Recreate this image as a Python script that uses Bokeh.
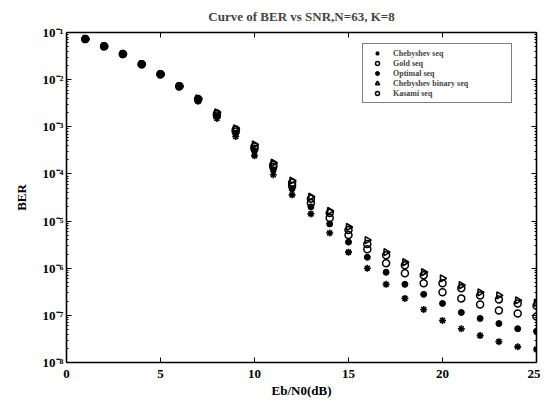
import numpy as np
from bokeh.plotting import figure
from bokeh.models import (LinearAxis, LogAxis, FixedTicker, CustomJSTickFormatter,
                          Legend, LegendItem, Range1d)
from bokeh.embed import file_html
from bokeh.resources import INLINE

# ---- data ----
snr_db = [1, 2, 3, 4, 5, 6, 7, 8, 9, 10, 11, 12, 13, 14, 15, 16, 17, 18, 19, 20, 21, 22, 23, 24, 25]

ber_cheb_binary = [7.26e-2, 5.08e-2, 3.48e-2, 2.13e-2, 1.30e-2, 7.23e-3, 4.01e-3, 2.02e-3, 9.2e-4, 4.2e-4,
                   1.73e-4, 7.2e-5, 3.27e-5, 1.64e-5, 7.48e-6, 3.95e-6, 2.19e-6, 1.34e-6, 8.2e-7, 6.1e-7,
                   4.35e-7, 3.08e-7, 2.65e-7, 2.08e-7, 1.85e-7]
ber_kasami = [7.26e-2, 5.08e-2, 3.48e-2, 2.13e-2, 1.30e-2, 7.2e-3, 3.9e-3, 1.92e-3, 8.75e-4, 3.8e-4,
              1.57e-4, 6.5e-5, 2.96e-5, 1.49e-5, 6.46e-6, 3.25e-6, 1.89e-6, 1.16e-6, 7.1e-7, 4.79e-7,
              3.75e-7, 2.65e-7, 2.18e-7, 1.79e-7, 1.6e-7]
ber_gold = [7.26e-2, 5.08e-2, 3.48e-2, 2.13e-2, 1.30e-2, 7.2e-3, 3.8e-3, 1.74e-3, 7.94e-4, 3.44e-4,
            1.42e-4, 5.6e-5, 2.43e-5, 1.16e-5, 5.05e-6, 2.54e-6, 1.28e-6, 7.8e-7, 4.79e-7, 3.08e-7,
            2.29e-7, 1.7e-7, 1.27e-7, 1.1e-7, 9.5e-8]
ber_optimal = [7.26e-2, 5.08e-2, 3.48e-2, 2.13e-2, 1.30e-2, 7.2e-3, 3.7e-3, 1.66e-3, 7.2e-4, 3.12e-4,
               1.23e-4, 4.83e-5, 2.0e-5, 8.7e-6, 3.58e-6, 1.71e-6, 8.2e-7, 4.55e-7, 2.79e-7, 1.79e-7,
               1.15e-7, 8.6e-8, 6.7e-8, 5.2e-8, 4.6e-8]
ber_cheb = [7.26e-2, 5.08e-2, 3.48e-2, 2.13e-2, 1.30e-2, 7.1e-3, 3.46e-3, 1.50e-3, 6.21e-4, 2.44e-4,
            9.6e-5, 3.6e-5, 1.42e-5, 5.57e-6, 2.19e-6, 1.0e-6, 4.55e-7, 2.29e-7, 1.33e-7, 7.8e-8,
            5.2e-8, 3.72e-8, 2.77e-8, 2.15e-8, 1.9e-8]

x_ticks = [0, 5, 10, 15, 20, 25]
y_ticks = [1e-8, 1e-7, 1e-6, 1e-5, 1e-4, 1e-3, 1e-2, 1e-1]
y_minor = [m * d for d in [1e-8, 1e-7, 1e-6, 1e-5, 1e-4, 1e-3, 1e-2] for m in range(2, 10)]

title_text = "Curve of BER vs SNR,N=63, K=8"
x_label = "Eb/N0(dB)"
y_label = "BER"
names = ["Chebyshev seq", "Gold seq", "Optimal seq", "Chebyshev binary seq", "Kasami seq"]

FONT = "Liberation Serif"

p = figure(width=540, height=403, y_axis_type="log",
           x_range=Range1d(0, 25), y_range=Range1d(1e-8, 1e-1),
           output_backend="svg", toolbar_location=None,
           min_border_left=66, min_border_right=4, min_border_top=32, min_border_bottom=41)
p.title.text = title_text
p.title.align = "center"
p.title.text_font = FONT
p.title.text_font_style = "bold"
p.title.text_font_size = "13px"
p.title.standoff = 0
p.xgrid.visible = False
p.ygrid.visible = False
p.outline_line_color = None

fmt = CustomJSTickFormatter(code="""
const sup = {'-':'\u207b','0':'\u2070','1':'\u00b9','2':'\u00b2','3':'\u00b3','4':'\u2074','5':'\u2075','6':'\u2076','7':'\u2077','8':'\u2078','9':'\u2079'};
const e = Math.round(Math.log10(tick));
return '10' + String(e).split('').map(c => sup[c]).join('');
""")

def style_axis(ax):
    ax.axis_line_width = 1.6
    ax.axis_line_color = "black"
    ax.major_tick_in = 5
    ax.major_tick_out = 0
    ax.minor_tick_in = 2
    ax.minor_tick_out = 0
    ax.major_tick_line_color = "black"
    ax.minor_tick_line_color = "black"
    ax.major_label_text_font = FONT
    ax.major_label_text_font_style = "bold"
    ax.major_label_text_font_size = "13px"
    ax.major_label_text_color = "black"
    ax.axis_label_text_font = FONT
    ax.axis_label_text_font_style = "bold"
    ax.axis_label_text_font_size = "13px"
    ax.axis_label_text_color = "black"

xt = FixedTicker(ticks=x_ticks, minor_ticks=[])
yt = FixedTicker(ticks=y_ticks, minor_ticks=y_minor)

xa = p.xaxis[0]
xa.ticker = xt
xa.axis_label = x_label
style_axis(xa)
xa.major_label_standoff = 7
xa.axis_label_standoff = 2

ya = p.yaxis[0]
ya.ticker = yt
ya.formatter = fmt
ya.axis_label = y_label
style_axis(ya)
ya.major_label_standoff = 3
ya.axis_label_standoff = 11

top = LinearAxis(ticker=xt)
style_axis(top)
top.major_label_text_color = None
top.major_label_text_font_size = "0px"
top.major_label_standoff = 0
top.axis_label = "\u00a0"
top.axis_label_text_font_size = "6px"
top.axis_label_standoff = 0
p.add_layout(top, "above")

right = LogAxis(ticker=yt)
style_axis(right)
right.major_label_text_color = None
right.major_label_text_font_size = "0px"
right.major_label_standoff = 0
p.add_layout(right, "right")

r_cheb = p.scatter(snr_db, ber_cheb, marker="asterisk", size=7, line_color="black", line_width=1.6)
r_gold = p.scatter(snr_db, ber_gold, marker="circle", size=7, fill_color=None, line_color="black", line_width=1.5)
r_opt = p.scatter(snr_db, ber_optimal, marker="circle", size=6, fill_color="black", line_color="black")
r_bin = p.scatter(snr_db, ber_cheb_binary, marker="triangle", angle=-np.pi / 2, size=7,
                  fill_color=None, line_color="black", line_width=1.6)
r_kas = p.scatter(snr_db, ber_kasami, marker="circle", size=7, fill_color=None, line_color="black", line_width=1.5)

legend = Legend(items=[LegendItem(label=n, renderers=[r]) for n, r in
                       zip(names, [r_cheb, r_gold, r_opt, r_bin, r_kas])],
                location=(296, 259))
legend.label_text_font = FONT
legend.label_text_font_style = "bold"
legend.label_text_font_size = "8px"
legend.label_height = 10
legend.glyph_height = 10
legend.glyph_width = 20
legend.label_standoff = 6
legend.label_width = 114
legend.spacing = 0
legend.padding = 4
legend.margin = 0
legend.border_line_color = "black"
legend.border_line_width = 1.2
p.add_layout(legend)

open("out.html", "w").write(file_html(p, INLINE))
